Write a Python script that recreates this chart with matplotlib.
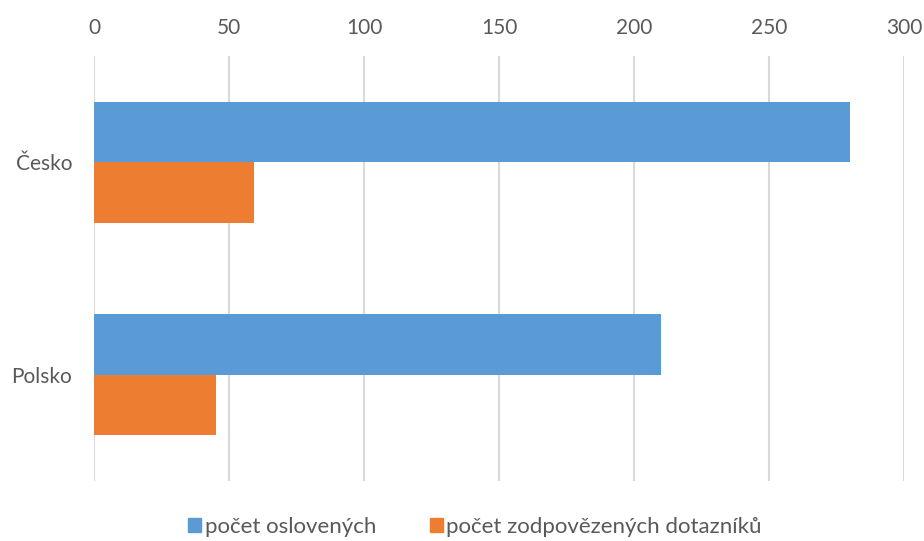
import numpy as np
import matplotlib.pyplot as plt
from matplotlib.patches import Patch

countries = ['Česko', 'Polsko']
oslovenych = [280, 210]
zodpovezenych = [59, 45]
series_names = ['počet oslovených', 'počet zodpovězených dotazníků']
colors = ['#5b9bd5', '#ed7d31']
ticks = [0, 50, 100, 150, 200, 250, 300]

plt.rcParams['font.family'] = ['Lato', 'DejaVu Sans']

fig = plt.figure(figsize=(9.24, 5.41), dpi=100)
ax = fig.add_axes([94.3 / 924, 60.1 / 541, 810 / 924, 424.8 / 541])

y = np.arange(len(countries))
h = 0.2857
ax.barh(y - h / 2, oslovenych, height=h, color=colors[0], zorder=3)
ax.barh(y + h / 2, zodpovezenych, height=h, color=colors[1], zorder=3)

ax.set_xlim(0, 300)
ax.set_ylim(1.5, -0.5)
ax.set_xticks(ticks)
ax.set_yticks(y)
ax.set_yticklabels(countries)
ax.xaxis.tick_top()
ax.tick_params(axis='x', length=0, pad=13, labelsize=15, labelcolor='#595959')
ax.tick_params(axis='y', length=0, pad=16, labelsize=15, labelcolor='#595959')
ax.grid(axis='x', color='#d9d9d9', linewidth=1.5, zorder=0)
for s in ax.spines.values():
    s.set_visible(False)

handles = [Patch(color=c) for c in colors]
fig.legend(handles, series_names, loc='center', bbox_to_anchor=(0.514, 1 - 527 / 541),
           ncol=2, frameon=False, fontsize=16, labelcolor='#595959',
           handlelength=0.6, handleheight=0.6, handletextpad=0.15, columnspacing=2.4)

fig.savefig('out.png', dpi=100)
